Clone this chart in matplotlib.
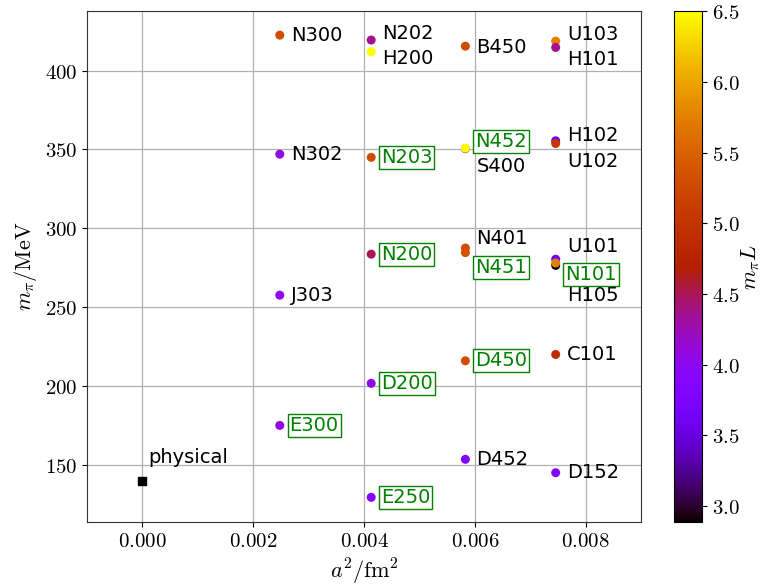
import matplotlib
matplotlib.use("Agg")
import matplotlib.pyplot as plt
from matplotlib.ticker import FuncFormatter

plt.rcParams['mathtext.fontset'] = 'cm'
plt.rcParams['font.family'] = ['DejaVu Sans']

# ensemble data: name, a^2 [fm^2], m_pi [MeV], m_pi L, boxed?
names = ["N300", "N302", "J303", "E300",
         "N202", "H200", "N203", "N200", "D200", "E250",
         "B450", "S400", "N452", "N401", "N451", "D450", "D452",
         "U103", "H101", "H102", "U102", "U101", "H105", "N101", "C101", "D152"]
a2 = [0.00248, 0.00248, 0.00248, 0.00248,
      0.00413, 0.00413, 0.00413, 0.00413, 0.00413, 0.00413,
      0.00583, 0.00583, 0.00583, 0.00583, 0.00583, 0.00583, 0.00583,
      0.00746, 0.00746, 0.00746, 0.00746, 0.00746, 0.00746, 0.00746, 0.00746, 0.00746]
mpi = [422.5, 347.0, 257.6, 175.0,
       419.4, 412.0, 345.0, 283.6, 201.7, 129.4,
       415.5, 350.5, 350.8, 287.5, 284.6, 216.0, 153.5,
       418.7, 414.7, 355.5, 353.8, 280.4, 276.5, 278.0, 220.0, 145.0]
mpiL = [5.3, 4.05, 4.0, 4.05,
        4.35, 6.5, 5.3, 4.5, 4.05, 3.85,
        5.3, 4.3, 6.5, 5.3, 5.35, 5.3, 3.85,
        5.75, 4.35, 3.6, 5.05, 3.6, 2.89, 5.75, 4.9, 3.85]
boxed = ["E300", "N203", "N200", "D200", "E250", "N452", "N451", "D450", "N101"]

# label offsets (points)
offsets = {
    "N300": (8, 0), "N302": (8, 0), "J303": (8, 0), "E300": (8, 0),
    "N202": (8, 5), "H200": (8, -5), "N203": (8, 0), "N200": (8, 0),
    "D200": (8, 0), "E250": (8, 0), "B450": (8, -1), "S400": (8, -13),
    "N452": (8, 5), "N401": (8, 7), "N451": (8, -11), "D450": (8, 0),
    "D452": (8, 0), "U103": (8, 5), "H101": (8, -9), "H102": (8, 4),
    "U102": (8, -13), "U101": (8, 9), "N101": (8, -8), "H105": (8, -22),
    "C101": (8, 0), "D152": (8, 0),
}

phys_a2 = [0.0]
phys_mpi = [139.57]

fig = plt.figure(figsize=(7.65, 5.87), dpi=100)
ax = fig.add_axes([0.1137, 0.1114, 0.7242, 0.8693])
cax = fig.add_axes([0.881, 0.1114, 0.0366, 0.8693])

ax.grid(True, color='#b0b0b0', linewidth=0.9, zorder=0)
ax.set_axisbelow(True)

sc = ax.scatter(a2, mpi, c=mpiL, cmap='gnuplot', vmin=2.89, vmax=6.5,
                s=42, zorder=3, edgecolors='none')
ax.scatter(phys_a2, phys_mpi, marker='s', color='black', s=40, zorder=3)
ax.annotate("physical", (phys_a2[0], phys_mpi[0]), xytext=(4, 17),
            textcoords='offset points', fontsize=14, va='center', ha='left')

for n, x, y in zip(names, a2, mpi):
    dx, dy = offsets[n]
    if n in boxed:
        ax.annotate(n, (x, y), xytext=(dx - 1, dy), textcoords='offset points',
                    fontsize=14, va='center', ha='left', color='green',
                    bbox=dict(boxstyle='square,pad=0.1', fc='white', ec='green', lw=1.0),
                    zorder=4)
    else:
        ax.annotate(n, (x, y), xytext=(dx, dy), textcoords='offset points',
                    fontsize=14, va='center', ha='left', color='black', zorder=4)

ax.set_xlim(-0.001, 0.009)
ax.set_ylim(114.0, 437.6)
ax.set_xticks([0.0, 0.002, 0.004, 0.006, 0.008])
ax.set_yticks([150, 200, 250, 300, 350, 400])
ax.xaxis.set_major_formatter(FuncFormatter(lambda v, p: r"$%.3f$" % v))
ax.yaxis.set_major_formatter(FuncFormatter(lambda v, p: r"$%d$" % round(v)))
ax.tick_params(labelsize=15)
ax.set_xlabel(r"$a^2/\mathrm{fm}^2$", fontsize=16, labelpad=4)
ax.set_ylabel(r"$m_\pi/\mathrm{MeV}$", fontsize=16, labelpad=4)
for s in ax.spines.values():
    s.set_color('#333333')

cb = fig.colorbar(sc, cax=cax)
cb.set_ticks([3.0, 3.5, 4.0, 4.5, 5.0, 5.5, 6.0, 6.5])
cb.ax.yaxis.set_major_formatter(FuncFormatter(lambda v, p: r"$%.1f$" % v))
cb.ax.tick_params(labelsize=15)
cb.set_label(r"$m_\pi L$", fontsize=16, labelpad=0)

fig.savefig("out.png", dpi=100)
